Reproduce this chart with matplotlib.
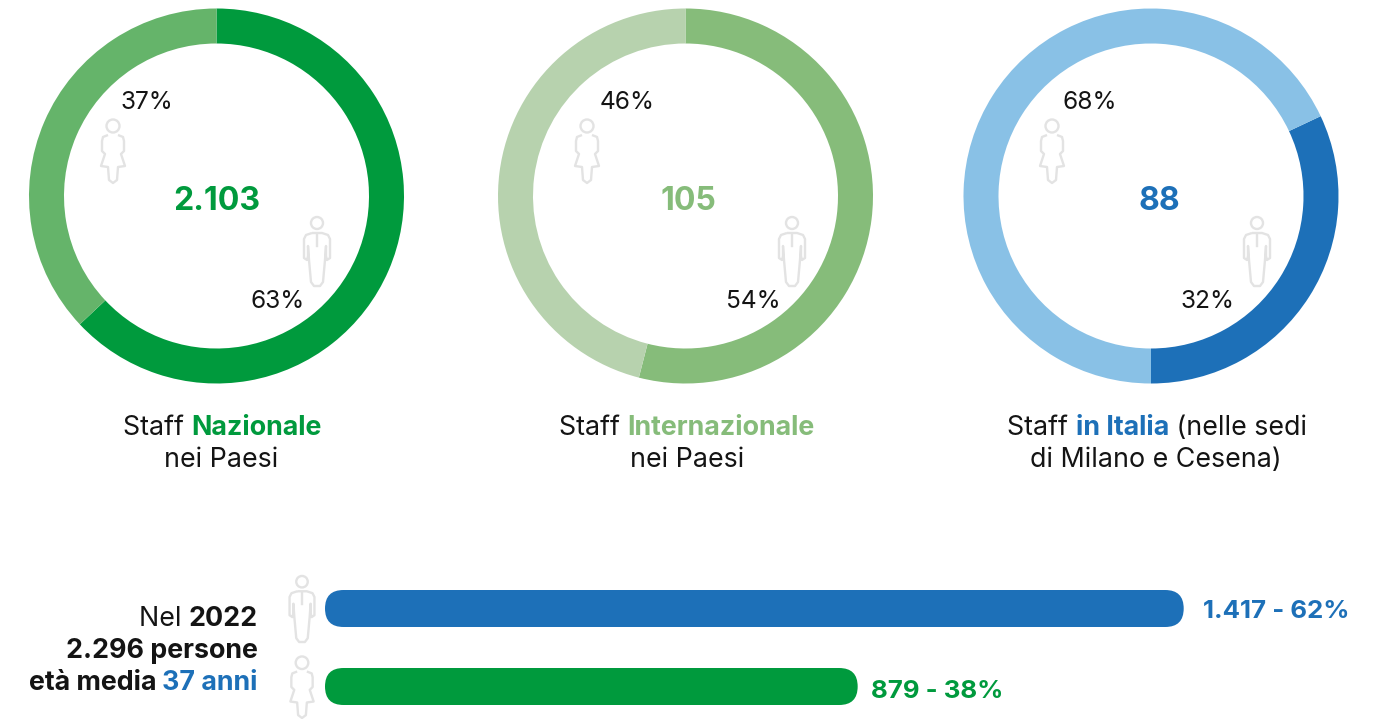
import matplotlib
matplotlib.use("Agg")
import matplotlib.pyplot as plt
from matplotlib.patches import FancyBboxPatch, Circle, PathPatch
from matplotlib.path import Path

plt.rcParams['font.family'] = ['Inter', 'DejaVu Sans']

# Data
donut_totals = ["2.103", "105", "88"]
men_shares = [63, 54, 32]
women_shares = [37, 46, 68]
men_colors = ["#009A3D", "#86BC7A", "#1D70B8"]
women_colors = ["#65B46A", "#B7D2AE", "#89C1E6"]
start_angles = [90, 90, 270]
clockwise = [True, True, False]
bar_values = [1417, 879]
bar_labels = ["1.417 - 62%", "879 - 38%"]
bar_colors = ["#1D70B8", "#009A3D"]

W, H = 1389, 719
fig = plt.figure(figsize=(W / 100, H / 100), dpi=100)
ax = fig.add_axes([0, 0, 1, 1])

DARK = "#141414"
ICON = "#E3E3E3"
centers = [216.5, 685.5, 1151]
CY, R, RING = 196, 187.5, 35

# Donuts
for cx, m, w, mc, wc, sa, cw in zip(centers, men_shares, women_shares, men_colors,
                                   women_colors, start_angles, clockwise):
    ax.pie([m, w], colors=[mc, wc], startangle=sa,
           counterclock=not cw, center=(cx, -CY), radius=R,
           wedgeprops=dict(width=RING, linewidth=0), frame=False)
ax.set_aspect("auto")
ax.set_xlim(0, W)
ax.set_ylim(-H, 0)
ax.axis("off")


def Y(y):
    return -y


def runs(x, y, parts, size, align="center"):
    """Place a line of mixed-style text runs. parts: (text, weight, colour)."""
    r = fig.canvas.get_renderer()
    arts, widths = [], []
    for txt, weight, col in parts:
        t = ax.text(0, Y(y), txt, fontsize=size, fontweight=weight, color=col,
                    ha="left", va="center_baseline")
        p1 = ax.text(0, 0, "|" + txt + "|", fontsize=size, fontweight=weight, alpha=0)
        p2 = ax.text(0, 0, "||", fontsize=size, fontweight=weight, alpha=0)
        widths.append(p1.get_window_extent(r).width - p2.get_window_extent(r).width)
        p1.remove()
        p2.remove()
        arts.append(t)
    total = sum(widths)
    cur = x - total / 2 if align == "center" else (x - total if align == "right" else x)
    for t, wd in zip(arts, widths):
        t.set_x(cur)
        cur += wd


def man(cx, top, h):
    s = h / 70.0
    def P(a, b):
        return (cx + a * s, Y(top + b * s))
    ax.add_patch(Circle(P(0, 7), 6 * s, fill=False, ec=ICON, lw=1.7))
    verts = [P(-5, 17), P(-11, 19), P(-13, 23), P(-13, 42), P(-10, 44), P(-9, 40), P(-9, 30),
             P(-8, 44), P(-6, 66), P(-3, 70), P(3, 70), P(6, 66), P(8, 44), P(9, 30), P(9, 40),
             P(10, 44), P(13, 42), P(13, 23), P(11, 19), P(5, 17), P(-5, 17)]
    ax.add_patch(PathPatch(Path(verts), fill=False, ec=ICON, lw=1.7, joinstyle="round"))
    ax.plot(*zip(P(0, 19), P(0, 30)), color=ICON, lw=1.7)


def woman(cx, top, h):
    s = h / 65.0
    def P(a, b):
        return (cx + a * s, Y(top + b * s))
    ax.add_patch(Circle(P(0, 8), 6.5 * s, fill=False, ec=ICON, lw=1.7))
    verts = [P(-5, 17), P(-10, 19), P(-11, 23), P(-11, 33), P(-8, 36), P(-12, 48), P(-5, 49),
             P(-4, 62), P(0, 65), P(4, 62), P(5, 49), P(12, 48), P(8, 36), P(11, 33), P(11, 23),
             P(10, 19), P(5, 17)]
    ax.add_patch(PathPatch(Path(verts), fill=False, ec=ICON, lw=1.7, joinstyle="round"))


woman_x = [113, 587, 1052]
man_x = [317, 792, 1257]
w_label_x = [147, 627, 1090]
m_label_x = [278, 753, 1208]
total_x = [216.5, 688.5, 1159.5]
for i in range(3):
    woman(woman_x[i], 118, 65)
    man(man_x[i], 216, 70)
    ax.text(w_label_x[i], Y(102.5), f"{women_shares[i]}%", fontsize=17.6, color=DARK, ha="center", va="center")
    ax.text(m_label_x[i], Y(301.5), f"{men_shares[i]}%", fontsize=17.6, color=DARK, ha="center", va="center")
    ax.text(total_x[i], Y(202), donut_totals[i], fontsize=23, fontweight="bold",
            color=men_colors[i], ha="center", va="center")

# Captions
SZ = 19.3
runs(222.5, 425, [("Staff ", "normal", DARK), ("Nazionale", "bold", men_colors[0])], SZ)
runs(221.5, 457, [("nei Paesi", "normal", DARK)], SZ)
runs(687, 425, [("Staff ", "normal", DARK), ("Internazionale", "bold", men_colors[1])], SZ)
runs(687, 457, [("nei Paesi", "normal", DARK)], SZ)
runs(1157, 425, [("Staff ", "normal", DARK), ("in Italia", "bold", men_colors[2]),
                 (" (nelle sedi", "normal", DARK)], SZ)
runs(1156, 457, [("di Milano e Cesena)", "normal", DARK)], SZ)

# Summary text
runs(258, 616, [("Nel ", "normal", DARK), ("2022", "bold", DARK)], SZ, "right")
runs(258, 648, [("2.296 persone", "bold", DARK)], SZ, "right")
runs(258, 680, [("età media ", "bold", DARK), ("37 anni", "bold", bar_colors[0])], SZ, "right")

# Bars
X0, SCALE, BH = 325, 0.606, 37
bar_tops = [590, 668]
label_y = [612, 691]
label_x = [1203, 871]
for v, top, col, lab, ly, lx in zip(bar_values, bar_tops, bar_colors, bar_labels, label_y, label_x):
    ax.add_patch(FancyBboxPatch((X0, Y(top + BH)), v * SCALE, BH,
                                boxstyle=f"round,pad=0,rounding_size={BH / 2}",
                                fc=col, ec="none"))
    ax.text(lx, Y(ly), lab, fontsize=18.6, fontweight="bold", color=col,
            ha="left", va="center")
man(302, 575, 67)
woman(302, 655, 63)

fig.savefig("out.png", dpi=100)
